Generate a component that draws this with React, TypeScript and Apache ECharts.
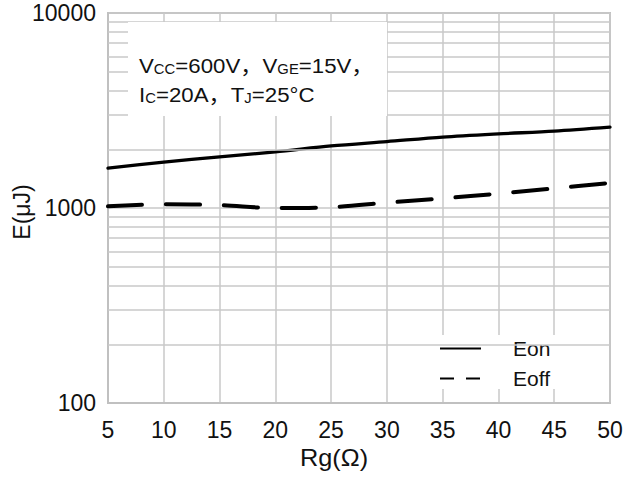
import React, { useEffect, useRef } from "react";
import * as echarts from "echarts";

// Gate resistance (Ω)
const rg = [5, 10, 15, 20, 25, 30, 35, 40, 45, 50];
// Turn-on and turn-off switching energy (μJ)
const eon = [1600, 1720, 1830, 1940, 2080, 2190, 2310, 2400, 2480, 2600];
const eoff = [1020, 1045, 1035, 1000, 1010, 1065, 1120, 1185, 1260, 1345];
// Minor log grid values between decades
const minorGrid = [200, 300, 400, 500, 600, 700, 800, 900, 2000, 3000, 4000, 5000, 6000, 7000, 8000, 9000];

const FONT = "'Liberation Sans', Arial, 'Noto Sans CJK SC', sans-serif";
const GRID = "#c8c8c8";
const INK = "#111";

export default function App() {
  const ref = useRef<HTMLDivElement>(null);

  useEffect(() => {
    if (!ref.current) return;
    const chart = echarts.init(ref.current, undefined, { renderer: "svg" });

    const pairs = (ys: number[]) => rg.map((x, i) => [x, ys[i]]);
    const hiddenSymbol = { opacity: 0, color: "transparent", borderWidth: 0 };

    chart.setOption({
      animation: false,
      backgroundColor: "#fff",
      textStyle: { fontFamily: FONT },
      grid: {
        left: 108,
        right: 16,
        top: 13,
        bottom: 74,
        show: true,
        borderColor: "#c0c0c0",
        borderWidth: 2,
        backgroundColor: "transparent",
      },
      xAxis: {
        type: "value",
        min: 5,
        max: 50,
        interval: 5,
        axisLine: { lineStyle: { color: "#c0c0c0", width: 2 } },
        axisTick: { show: false },
        axisLabel: { fontSize: 23, color: INK, margin: 15, fontFamily: FONT },
        splitLine: { lineStyle: { color: GRID, width: 1.5 } },
      },
      yAxis: {
        type: "log",
        logBase: 10,
        min: 100,
        max: 10000,
        axisLine: { show: true, lineStyle: { color: "#c0c0c0", width: 2 } },
        axisTick: { show: false },
        axisLabel: {
          fontSize: 23,
          color: INK,
          margin: 12,
          fontFamily: FONT,
          formatter: (v: number) => String(Math.round(v)),
        },
        splitLine: { lineStyle: { color: GRID, width: 1.5 } },
      },
      legend: {
        left: 420,
        top: 335,
        orient: "vertical",
        backgroundColor: "#fff",
        padding: [3, 10, 0, 19],
        itemWidth: 41,
        itemHeight: 14,
        itemGap: 9,
        itemStyle: hiddenSymbol,
        textStyle: { fontSize: 21, color: INK, lineHeight: 20, padding: [0, 0, 0, 27], fontFamily: FONT },
        data: [
          { name: "Eon", itemStyle: hiddenSymbol, lineStyle: { width: 2, type: "solid", cap: "butt" } },
          { name: "Eoff", itemStyle: hiddenSymbol, lineStyle: { width: 2, type: [14, 12], cap: "butt" } },
        ],
      },
      series: [
        {
          type: "line",
          name: "grid",
          data: [],
          z: 1,
          silent: true,
          markLine: {
            silent: true,
            symbol: "none",
            label: { show: false },
            lineStyle: { color: GRID, width: 1.5, type: "solid" },
            data: minorGrid.map((v) => ({ yAxis: v })),
          },
        },
        {
          type: "line",
          name: "Eon",
          data: pairs(eon),
          z: 3,
          showSymbol: false,
          symbol: "none",
          smooth: 0.3,
          lineStyle: { color: "#000", width: 3.3, cap: "round" },
          itemStyle: { color: "#000" },
        },
        {
          type: "line",
          name: "Eoff",
          data: pairs(eoff),
          z: 3,
          showSymbol: false,
          symbol: "none",
          smooth: 0.3,
          lineStyle: { color: "#000", width: 4, type: [34, 24], cap: "round" },
          itemStyle: { color: "#000" },
        },
      ],
      graphic: [
        {
          type: "rect",
          z: 10,
          shape: { x: 128, y: 22, width: 259, height: 94 },
          style: { fill: "#fff" },
        },
        {
          type: "text",
          z: 11,
          x: 139,
          y: 47,
          scaleX: 1.06,
          style: {
            text:
              "{m|V}{s|CC}{m|=600V，V}{s|GE}{m|=15V，}\n{m|I}{s|C}{m|=20A，T}{s|J}{m|=25°C}",
            fill: INK,
            rich: {
              m: { fontSize: 21, lineHeight: 29, verticalAlign: "bottom", fontFamily: FONT, fill: INK },
              s: { fontSize: 14, lineHeight: 20, verticalAlign: "bottom", fontFamily: FONT, fill: INK },
            },
          },
        },
        {
          type: "text",
          z: 11,
          x: 300,
          y: 446,
          scaleX: 1.1,
          style: { text: "Rg(Ω)", fontSize: 23, fill: INK, fontFamily: FONT },
        },
        {
          type: "text",
          z: 11,
          x: 22,
          y: 212,
          rotation: Math.PI / 2,
          style: {
            text: "E(μJ)",
            fontSize: 23,
            fill: INK,
            fontFamily: FONT,
            align: "center",
            verticalAlign: "middle",
          },
        },
      ],
    });

    return () => chart.dispose();
  }, []);

  return (
    <div
      ref={ref}
      style={{ position: "fixed", left: 0, top: 0, width: 626, height: 477 }}
    />
  );
}
